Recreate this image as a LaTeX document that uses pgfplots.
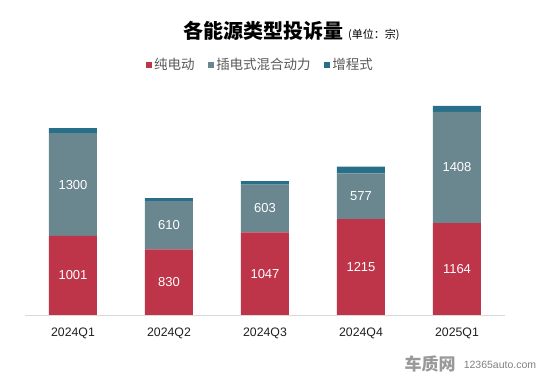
\documentclass[border=0pt]{standalone}
\usepackage{pgfplots}
\pgfplotsset{compat=1.18}
\usepackage{fontspec}
\setmainfont{Liberation Sans}
\newfontfamily\cjk{Noto Sans CJK SC}
\definecolor{cRed}{RGB}{190,52,72}
\definecolor{cGrey}{RGB}{106,134,142}
\definecolor{cTeal}{RGB}{40,112,137}
\definecolor{cText}{RGB}{89,89,89}
\begin{document}
\begin{tikzpicture}[x=1pt,y=1pt]
\path (0,0) rectangle (550,380);
\begin{axis}[
  at={(25pt,65pt)}, anchor=south west,
  scale only axis, width=480pt, height=237pt,
  xmin=-0.5, xmax=4.5, ymin=0, ymax=3000,
  ybar stacked, bar width=48pt,
  axis y line=none, axis x line*=bottom,
  x axis line style={draw={rgb,255:red,217;green,217;blue,217}, line width=0.8pt, -},
  xtick=data, xticklabels={2024Q1,2024Q2,2024Q3,2024Q4,2025Q1},
  xtick style={draw=none},
  x tick label style={font=\fontsize{12.3}{14}\selectfont, text=black!88, yshift=-9pt},
  legend columns=3,
  legend style={at={(0.49,1.055)}, anchor=center, draw=none, fill=none,
    font=\cjk\fontsize{13.5}{15}\selectfont, text=cText,
    /tikz/every even column/.append style={column sep=11pt}},
  legend image code/.code={\fill[#1] (0pt,-3.3pt) rectangle (6.6pt,3.3pt);},
]
\addplot[fill=cRed, draw=none] coordinates {(0,1001) (1,830) (2,1047) (3,1215) (4,1164)};
\addplot[fill=cGrey, draw=none] coordinates {(0,1300) (1,610) (2,603) (3,577) (4,1408)};
\addplot[fill=cTeal, draw=none] coordinates {(0,63) (1,38) (2,46) (3,85) (4,76)};
\legend{纯电动,插电式混合动力,增程式}
\end{axis}
\begin{axis}[
  at={(25pt,65pt)}, anchor=south west,
  scale only axis, width=480pt, height=237pt,
  xmin=-0.5, xmax=4.5, ymin=0, ymax=3000,
  hide axis,
  nodes near coords, point meta=explicit symbolic,
  every node near coord/.style={anchor=center, text=white, font=\fontsize{13}{15}\selectfont},
]
\addplot[draw=none, mark=none] coordinates {(0,500.5)[1001] (1,415)[830] (2,523.5)[1047] (3,607.5)[1215] (4,582)[1164]};
\addplot[draw=none, mark=none] coordinates {(0,1651)[1300] (1,1135)[610] (2,1348.5)[603] (3,1503.5)[577] (4,1868)[1408]};
\end{axis}
\node[anchor=base west, inner sep=0] at (183,341) {{\cjk\bfseries\fontsize{20}{22}\selectfont 各能源类型投诉量}\hspace{5pt}{\cjk\fontsize{11}{12}\selectfont (单位：宗)}};
\node[anchor=center, inner sep=0, text=black!40] at (430,16) {\cjk\bfseries\fontsize{17}{19}\selectfont 车质网};
\node[anchor=center, inner sep=0, text=black!50] at (500,15) {\fontsize{10.5}{12}\selectfont 12365auto.com};
\end{tikzpicture}
\end{document}
